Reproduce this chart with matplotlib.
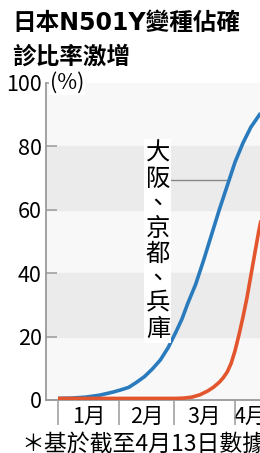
import matplotlib
matplotlib.use("Agg")
import matplotlib.pyplot as plt

# days counted from 1 Jan 2021
blue_days = [0, 7, 14, 21, 28, 32, 36, 40, 44, 48, 52, 56, 60, 63, 66, 70,
             74, 78, 82, 86, 90, 94, 98, 103]
blue_vals = [0.5, 0.6, 0.9, 1.5, 2.5, 3.2, 4.0, 5.6, 7.4, 9.8, 12.6, 16.5, 21.5, 25.5, 30.5, 36.5,
             44, 52, 60, 67.5, 75, 81, 86, 90.5]

red_days = [0, 60, 64, 68, 72, 76, 79, 82, 84, 86, 88, 90, 92, 94, 96, 98, 100, 102, 104]
red_vals = [0.5, 0.5, 0.6, 0.9, 1.6, 2.8, 4.0, 5.6, 7.0, 8.8, 11.5, 15.5, 20.5, 26, 32, 39, 46, 53, 59]

month_edges = [0, 31, 59, 90]
month_pos = [15.5, 45, 74.5, 98]
month_labels = ["1月", "2月", "3月", "4月"]
y_ticks = [0, 20, 40, 60, 80, 100]

title1 = "日本N501Y變種佔確"
title2 = "診比率激增"
region_label = "大阪、京都、兵庫"
note = "＊基於截至4月13日數據"

num_font = ["Liberation Sans Narrow", "Noto Sans CJK TC"]
cjk_font = ["Noto Sans CJK TC", "DejaVu Sans"]
title_font = ["DejaVu Sans", "Noto Sans CJK TC"]

fig = plt.figure(figsize=(2.6, 4.53), dpi=100)
ax = fig.add_axes([46 / 260, 53 / 453, 248 / 260, 317 / 453])
ax.set_facecolor("#f8f8f8")

# alternating bands
ax.axhspan(20, 40, color="#ebebeb", zorder=0)
ax.axhspan(60, 80, color="#ebebeb", zorder=0)

ax.plot(blue_days, blue_vals, color="#2a7bbd", lw=2.6, solid_capstyle="butt", zorder=3)
ax.plot(red_days, red_vals, color="#e2552d", lw=2.6, solid_capstyle="butt", zorder=3)

ax.set_xlim(-6.1, 120)
ax.set_ylim(0, 100)

for s in ["top", "right"]:
    ax.spines[s].set_visible(False)
for s in ["left", "bottom"]:
    ax.spines[s].set_color("#9a9a9a")
    ax.spines[s].set_linewidth(1.3)

ax.set_yticks(y_ticks)
ax.set_yticklabels([str(v) for v in y_ticks], family=num_font, fontsize=15.5)
ax.tick_params(axis="y", direction="in", length=8, width=1.1, color="#9a9a9a", pad=3)

ax.set_xticks(month_pos)
ax.set_xticklabels(month_labels, family=num_font, fontsize=15.5)
ax.set_xticks(month_edges, minor=True)
ax.tick_params(axis="x", which="major", length=0, pad=4)
ax.tick_params(axis="x", which="minor", direction="out", length=18, width=1.1, color="#9a9a9a")

ax.text(-4.0, 100, "(%)", family=num_font, fontsize=15.5, ha="left", va="center",
        bbox=dict(facecolor="white", edgecolor="none", pad=0.5), zorder=5, clip_on=False)

# leader line and vertical label
ax.plot([55, 87], [69.5, 69.5], color="#888888", lw=1, zorder=2)
ax.text(50.8, 81.8, "\n".join(region_label), family=cjk_font, fontsize=17.5,
        ha="center", va="top", linespacing=0.95,
        bbox=dict(facecolor="white", edgecolor="none", pad=1), zorder=4)

fig.text(12 / 260, 1 - 23 / 453, title1, family=title_font, fontsize=17, fontweight="bold", va="center")
fig.text(12 / 260, 1 - 57 / 453, title2, family=title_font, fontsize=17, fontweight="bold", va="center")
fig.text(21 / 260, 1 - 433 / 453, note, family=cjk_font, fontsize=16.5, va="top")

fig.savefig("out.png", dpi=100)
